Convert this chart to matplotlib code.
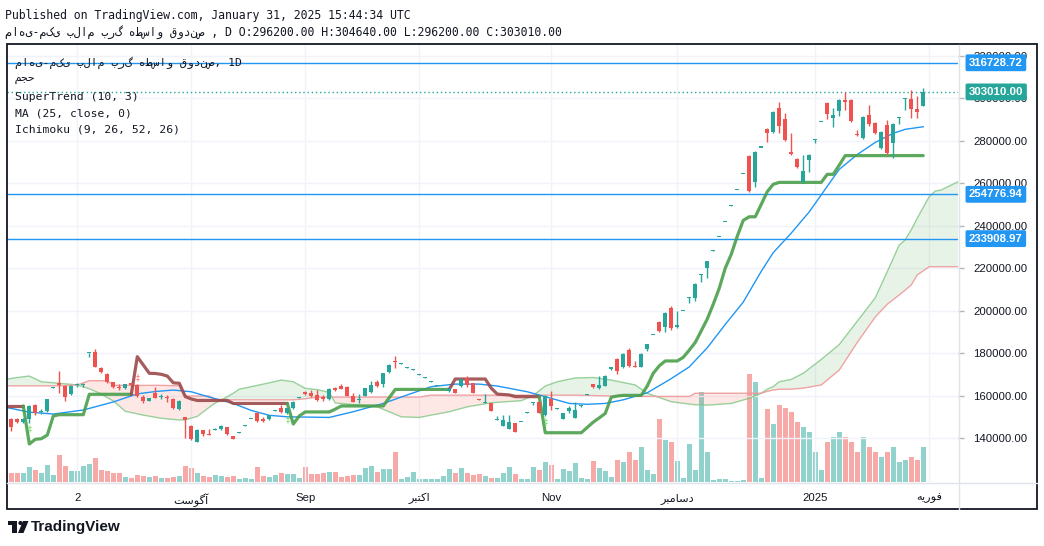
import numpy as np
import matplotlib.pyplot as plt
import matplotlib.transforms as mtransforms
from matplotlib.patches import Rectangle, Polygon, Circle

# ---- daily candles (prices in thousands) ----
opens = [150.8, 148.8, 148.9, 147.7, 149.0, 155.5, 152.2, 152.8, 163.7, 165.8,
         164.5, 160.7, 165.0, 165.2, 180.0, 180.5, 173.0, 170.1, 166.4, 164.2,
         163.5, 165.8, 165.0, 159.4, 157.6, 161.3, 159.2, 159.4, 158.5, 153.7,
         149.7, 145.6, 138.3, 143.8, 142.0, 144.0, 144.2, 145.0, 140.9, 142.7,
         146.0, 148.9, 151.9, 148.7, 148.8, 152.8, 154.1, 151.9, 154.0, 159.1,
         161.8, 161.3, 160.1, 159.0, 158.4, 163.2, 164.5, 164.0, 159.9, 158.2,
         159.9, 161.7, 166.4, 165.4, 171.0, 176.3, 175.0, 173.2, 172.0, 169.9,
         168.5, 166.7, 164.9, 163.0, 162.0, 163.0, 164.5, 168.1, 165.8, 158.4,
         156.6, 156.3, 148.7, 145.8, 144.4, 146.9, 147.9, 152.1, 156.6, 157.1,
         150.8, 158.4, 153.9, 149.1, 152.6, 149.6, 155.4, 160.6, 165.3, 163.5,
         164.6, 172.4, 177.2, 173.6, 181.4, 173.9, 173.6, 182.0, 188.9, 194.6,
         192.3, 201.2, 192.3, 200.2, 206.2, 205.9, 217.1, 220.1, 228.4, 234.7,
         242.1, 249.6, 257.2, 264.7, 272.8, 260.6, 277.0, 285.5, 284.1, 295.4,
         290.2, 274.7, 271.4, 260.6, 270.9, 280.6, 289.2, 297.8, 290.7, 294.0,
         299.2, 299.2, 282.9, 281.3, 292.2, 288.4, 276.6, 287.4, 278.9, 291.0,
         299.9, 299.7, 295.0, 296.2]
highs = [151.5, 149.5, 149.3, 149.3, 155.5, 156.0, 153.5, 158.5, 164.0, 171.6,
         165.0, 164.8, 166.0, 166.0, 180.2, 181.9, 173.3, 170.4, 166.6, 165.4,
         165.6, 166.1, 165.4, 160.3, 159.0, 163.9, 160.7, 160.3, 158.8, 157.7,
         150.0, 146.0, 144.1, 144.0, 144.1, 144.8, 146.1, 145.3, 141.1, 142.9,
         146.2, 149.1, 152.2, 149.7, 151.0, 153.0, 155.4, 154.3, 157.3, 159.3,
         162.0, 162.6, 162.6, 160.3, 163.5, 164.2, 165.4, 164.3, 161.1, 160.6,
         163.7, 167.0, 167.3, 170.8, 174.7, 178.6, 175.2, 173.4, 172.6, 170.1,
         168.7, 166.9, 165.1, 163.2, 164.0, 163.2, 168.0, 169.2, 166.0, 158.6,
         160.7, 156.6, 150.4, 150.8, 150.8, 147.2, 148.2, 152.3, 157.2, 157.4,
         160.2, 162.1, 154.3, 151.9, 155.0, 157.1, 155.6, 160.8, 165.5, 169.0,
         169.5, 173.5, 177.5, 179.9, 182.4, 176.3, 179.9, 184.5, 189.1, 194.9,
         199.2, 202.2, 199.8, 200.4, 206.6, 212.8, 217.4, 223.6, 228.6, 234.9,
         242.3, 249.8, 257.4, 264.9, 273.1, 275.0, 277.2, 285.8, 294.0, 298.3,
         293.1, 283.7, 271.7, 273.3, 273.6, 280.9, 289.4, 298.1, 295.4, 299.5,
         303.0, 299.5, 285.1, 291.5, 296.8, 288.7, 284.4, 289.8, 288.2, 291.3,
         300.2, 303.9, 301.1, 304.64]
lows = [147.5, 143.4, 147.2, 147.0, 147.2, 151.0, 151.5, 152.5, 163.6, 161.1,
        157.4, 160.1, 164.0, 164.2, 178.3, 173.3, 170.8, 166.0, 163.7, 162.6,
        163.3, 164.8, 159.5, 156.6, 157.3, 158.8, 158.2, 157.1, 153.5, 153.4,
        139.9, 139.2, 138.0, 141.1, 141.5, 143.8, 144.0, 141.6, 139.5, 142.6,
        145.9, 148.8, 147.5, 147.4, 148.5, 152.7, 152.0, 151.5, 153.8, 159.0,
        160.5, 159.5, 157.6, 157.6, 158.0, 162.0, 163.0, 159.6, 156.9, 156.3,
        159.6, 161.4, 164.2, 164.2, 170.7, 173.1, 174.9, 173.1, 171.9, 169.8,
        168.4, 166.6, 164.8, 162.9, 161.8, 161.2, 164.2, 163.9, 161.2, 157.9,
        156.4, 152.6, 148.6, 145.5, 144.1, 142.8, 147.8, 152.0, 155.5, 151.6,
        150.5, 153.2, 153.8, 148.9, 152.0, 149.4, 154.8, 160.5, 163.4, 163.3,
        164.3, 172.2, 170.0, 172.9, 173.6, 173.4, 173.3, 180.9, 188.8, 190.1,
        190.1, 190.9, 192.0, 200.1, 203.7, 204.7, 213.6, 215.4, 228.3, 234.6,
        242.0, 249.5, 257.1, 264.6, 256.0, 258.2, 276.9, 279.4, 283.6, 283.7,
        280.1, 273.5, 267.3, 260.3, 265.3, 278.8, 289.1, 290.2, 286.5, 291.7,
        294.5, 289.0, 282.4, 281.0, 287.0, 283.4, 276.3, 273.9, 271.9, 287.9,
        294.5, 290.7, 290.7, 296.2]
closes = [148.5, 145.0, 147.7, 148.9, 155.1, 151.6, 152.8, 158.2, 163.9, 165.0,
          159.5, 164.5, 165.4, 165.4, 180.2, 173.6, 171.1, 166.4, 164.2, 163.4,
          165.4, 165.0, 159.8, 157.6, 158.7, 159.0, 159.6, 159.0, 154.1, 157.4,
          148.5, 139.5, 143.8, 141.9, 141.7, 144.3, 145.8, 141.9, 139.7, 142.9,
          146.2, 149.1, 148.1, 148.3, 150.7, 153.0, 152.2, 154.1, 157.0, 159.3,
          160.7, 159.9, 157.9, 158.7, 162.9, 163.0, 163.2, 159.9, 157.1, 158.5,
          163.4, 165.0, 164.5, 170.5, 174.4, 175.7, 175.1, 173.3, 172.2, 170.0,
          168.6, 166.8, 165.0, 163.1, 163.3, 161.4, 167.6, 165.0, 161.4, 158.1,
          156.9, 152.9, 148.9, 148.5, 147.4, 143.0, 148.1, 152.2, 156.9, 151.9,
          159.8, 155.2, 154.2, 151.6, 154.3, 153.2, 155.5, 160.7, 164.2, 165.0,
          169.2, 173.3, 171.7, 179.6, 173.9, 173.6, 179.6, 184.3, 189.0, 190.4,
          198.9, 191.8, 193.2, 200.3, 206.5, 212.5, 217.3, 223.4, 228.5, 234.8,
          242.2, 249.7, 257.3, 264.8, 256.3, 274.7, 277.1, 283.7, 293.5, 287.0,
          280.4, 273.8, 267.6, 265.8, 273.3, 280.8, 289.3, 292.6, 292.2, 299.2,
          298.3, 289.3, 282.7, 291.2, 287.9, 283.7, 284.1, 274.2, 287.9, 291.2,
          300.1, 295.0, 293.5, 303.01]
volumes = [8, 8.7, 8.7, 8.7, 15, 12, 8.7, 16.7, 7, 27,
           16, 11, 11, 16, 17.7, 23.7, 12, 11, 9.3, 9.3,
           5, 4.3, 7, 6, 5, 6, 3.7, 3.7, 5, 6,
           16, 13.7, 9.3, 6, 5, 7, 6, 5.3, 6, 3.3,
           3.7, 3.3, 15, 6, 5, 7, 9, 8, 8, 4,
           15, 8, 8, 9, 10, 10, 5, 6, 7, 7,
           14, 16, 10, 13, 13, 30, 3, 5, 10, 3,
           3, 3, 3, 6, 13, 9, 14, 9, 7, 8,
           6, 4.5, 4, 9, 15, 8, 3, 3, 15, 12,
           20, 17, 3, 13, 11, 19, 4, 3, 21.5, 14.5,
           11.5, 5.5, 22.5, 20.5, 30.5, 22.5, 35.5, 12, 8.5, 63.5,
           42.5, 40.5, 21.5, 4.5, 38.5, 12, 90, 30, 2, 3,
           3, 1, 1, 2, 108, 100, 4, 73, 58, 77,
           74, 70, 60, 55, 50, 30, 12, 40, 45, 50,
           45, 40, 30, 45, 35, 30, 25, 30, 35, 20,
           22, 25, 22, 35]

# ---- SuperTrend (10, 3), one value per bar; trend flips at these bars ----
supertrend = [155.1, 155.1, 155.1, 155.1, 137.2, 139.4, 139.7, 141.4, 150.4, 151.0,
              151.0, 151.0, 151.0, 151.0, 160.6, 160.6, 160.6, 160.6, 160.6, 160.6,
              160.6, 160.6, 178.3, 174.4, 170.5, 170.4, 170.0, 169.2, 166.0, 165.8,
              159.5, 158.4, 157.7, 157.7, 157.7, 157.7, 157.7, 157.7, 156.3, 156.3,
              156.3, 156.3, 156.3, 156.3, 156.3, 156.3, 156.3, 156.3, 146.6, 150.4,
              152.3, 152.3, 152.3, 152.3, 152.3, 153.6, 155.1, 155.1, 155.1, 155.1,
              155.1, 155.1, 155.1, 155.1, 159.0, 162.9, 162.9, 162.9, 162.9, 162.9,
              162.9, 162.9, 162.9, 162.9, 162.9, 167.8, 167.8, 167.8, 167.8, 167.8,
              167.8, 163.5, 160.7, 160.5, 160.3, 159.5, 159.5, 159.5, 159.5, 159.5,
              142.5, 142.5, 142.5, 142.5, 142.5, 142.5, 142.5, 145.0, 147.5, 149.5,
              151.6, 159.2, 159.8, 160.1, 160.1, 160.1, 160.1, 164.5, 170.5, 174.0,
              176.3, 176.3, 176.3, 178.0, 181.4, 185.0, 190.5, 196.0, 203.0, 210.5,
              220.0, 226.5, 235.0, 242.5, 244.2, 244.2, 250.0, 256.0, 259.5, 260.4,
              260.4, 260.4, 260.4, 260.4, 260.4, 260.4, 260.4, 264.2, 264.2, 268.5,
              273.0, 273.0, 273.0, 273.0, 273.0, 273.0, 273.0, 273.0, 273.0, 273.0,
              273.0, 273.0, 273.0, 273.0]
st_flips = [5, 23, 49, 76, 91]  # first bars of each new trend, chart opens in a downtrend
buy_signals = [5, 48, 91]
sell_signals = [23]

# ---- MA (25, close) read at a few bars ----
ma_bars = [1, 5, 9, 14, 19, 23, 26, 29, 32, 35, 39, 42, 45, 48, 55, 59, 64, 68, 72,
           76, 80, 83, 88, 92, 95, 98, 101, 104, 108, 112, 115, 118, 121, 124, 127,
           129, 132, 135, 137, 140, 143, 146, 149, 151, 154]
ma_vals = [154.5, 152.2, 151.3, 153.2, 157.0, 160.8, 161.9, 162.6, 161.8, 159.3,
           156.3, 153.0, 150.7, 150.0, 149.7, 152.4, 156.3, 160.3, 164.2, 165.4,
           165.4, 164.5, 161.8, 158.7, 156.3, 155.9, 156.3, 158.0, 161.3, 168.0,
           173.5, 182.5, 193.5, 204.0, 218.5, 227.3, 236.5, 246.5, 254.5, 266.5,
           273.5, 279.2, 283.5, 285.4, 286.6]

# ---- Ichimoku cloud (leading spans A and B) ----
cloud_bars = [1, 3, 5, 7, 10, 13, 15, 17, 18, 19, 21, 24, 27, 30, 31, 33, 35, 36, 37,
              39, 40, 42, 45, 47, 49, 51, 53, 55, 56, 58, 63, 67, 70, 72, 75, 78, 82,
              87, 89, 91, 93, 96, 99, 102, 106, 108, 112, 115, 116, 118, 122, 125,
              127, 128, 129, 130, 132, 134, 137, 140, 143, 146, 148, 150, 151, 152,
              153, 155, 156, 157, 160]
span_a = [167.6, 168.5, 169.2, 166.5, 165.8, 165.0, 163.2, 160.8, 159.0, 157.5,
          152.6, 150.8, 149.3, 148.5, 148.6, 150.2, 154.5, 156.5, 157.9, 161.1,
          163.0, 164.2, 166.0, 167.3, 166.5, 163.4, 162.8, 161.5, 156.5, 156.0,
          154.7, 150.0, 149.7, 150.8, 152.4, 154.7, 156.6, 157.6, 160.0, 164.5,
          166.5, 168.3, 168.5, 167.3, 165.0, 161.1, 157.1, 156.0, 155.7, 155.5,
          156.3, 158.7, 161.1, 163.0, 164.2, 166.5, 167.6, 170.5, 177.0, 184.0,
          195.0, 206.0, 218.3, 230.9, 233.3, 238.0, 243.5, 253.7, 256.3, 256.8,
          261.0]
span_b = [164.6, 164.6, 164.6, 164.6, 164.6, 165.0, 167.0, 167.0, 167.0, 164.8,
          164.8, 164.8, 164.8, 164.6, 159.8, 159.8, 159.8, 158.0, 158.0, 158.0,
          158.0, 158.0, 158.0, 158.0, 158.0, 158.5, 159.3, 159.3, 159.3, 159.3,
          159.3, 159.3, 159.3, 160.2, 160.2, 160.2, 160.2, 160.2, 160.2, 160.2,
          160.2, 160.2, 160.0, 159.8, 159.6, 159.6, 159.6, 159.6, 161.1, 161.1,
          161.1, 161.1, 161.1, 162.0, 162.6, 163.0, 163.0, 163.5, 165.0, 172.0,
          185.0, 197.0, 203.0, 207.4, 209.7, 212.1, 216.8, 220.7, 220.7, 220.7,
          220.7]

hlines = [316728.72, 254776.94, 233908.97]
last_close = 303010.00
price_ticks = list(range(140000, 340000, 20000))

# month labels; the Persian ones are written in presentation forms, visual order
time_bars = [13, 32, 51, 70, 92, 113, 136, 155]
time_labels = ['2', '\uFE96\uFEB3\uFEEE\uFB94\uFE81', 'Sep',
               '\uFEAE\uFE92\uFE98\uFB90\uFE8D', 'Nov',
               '\uFEAE\uFE92\uFEE3\uFE8E\uFEB3\uFEA9', '2025',
               '\uFEEA\uFBFE\uFEAD\uFEEE\uFED3']

symbol = 'ماهی-مکی بلام برگ هطساو قودنص'
volume_title = '\uFEE2\uFEA0\uFEA3'

UP, DOWN = '#26a69a', '#ef5350'
W, H = 1044, 546
MONO = ['DejaVu Sans Mono', 'DejaVu Sans']
SANS = ['Liberation Sans', 'DejaVu Sans']


def fx(px):
    return px / W


def fy(py):
    return 1 - py / H


fig = plt.figure(figsize=(W / 100, H / 100), dpi=100)
ax = fig.add_axes([fx(7), fy(482), fx(958) - fx(7), fy(45) - fy(482)])
axv = ax.twinx()
ax.set_zorder(axv.get_zorder() + 1)
ax.patch.set_visible(False)

bars = np.arange(1, len(opens) + 1)
o = np.array(opens) * 1000
h = np.array(highs) * 1000
l = np.array(lows) * 1000
c = np.array(closes) * 1000
up = c >= o
colors = np.where(up, UP, DOWN)

# volume
vol_colors = np.where(up, '#92d2cc', '#f7a9a7')
axv.bar(bars, volumes, width=0.8, color=vol_colors, linewidth=0)
axv.set_ylim(0, 437)
axv.axis('off')

# ichimoku cloud
cb = np.array(cloud_bars)
sa = np.array(span_a) * 1000
sb = np.array(span_b) * 1000
ax.fill_between(cb, sa, sb, where=sa >= sb, interpolate=True, color='#43a047', alpha=0.12, lw=0, zorder=1)
ax.fill_between(cb, sa, sb, where=sa < sb, interpolate=True, color='#f44336', alpha=0.12, lw=0, zorder=1)
ax.plot(cb, sa, color='#81c784', lw=1.0, alpha=0.8, zorder=1.5)
ax.plot(cb, sb, color='#ef9a9a', lw=1.0, alpha=0.9, zorder=1.5)

# moving average
ax.plot(ma_bars, np.array(ma_vals) * 1000, color='#2196f3', lw=1.0, zorder=2)

# supertrend, one polyline per trend run
st = np.array(supertrend) * 1000
starts = [1] + st_flips
ends = st_flips + [len(st) + 1]
for k, (s, e) in enumerate(zip(starts, ends)):
    col = '#4a9f4a' if k % 2 == 1 else '#9c4a4a'
    i0 = max(s - 1, 1)
    ax.plot(bars[i0 - 1:e - 1], st[i0 - 1:e - 1], color=col, lw=2.3, alpha=0.9,
            solid_joinstyle='round', solid_capstyle='round', zorder=3)
for b in buy_signals:
    ax.text(b, l[b - 1] - 700, '\u2021', fontsize=5.5, color='#66dd66', ha='center', va='top', zorder=6)
for b in sell_signals:
    ax.text(b, h[b - 1] + 700, '\u2021', fontsize=5.5, color='#ff6f6f', ha='center', va='bottom', zorder=6)

# candles
ax.vlines(bars, l, h, colors=colors, lw=1, zorder=4)
body = np.abs(c - o)
small = body < 500
body_h = np.where(small, 500, body)
body_bot = np.where(small, (o + c) / 2 - 250, np.minimum(o, c))
ax.bar(bars, body_h, bottom=body_bot, width=0.68, color=colors, linewidth=0, zorder=5)

# horizontal lines and last price
for v in hlines:
    ax.axhline(v, color='#2196f3', lw=1, zorder=2.5)
ax.axhline(last_close, color=UP, lw=1, ls=(0, (1, 2)), zorder=2.5)

ax.set_xlim(1.28, 159.8)
ax.set_ylim(119300, 325100)

# axes look
for sp in ax.spines.values():
    sp.set_visible(False)
ax.grid(True, color='#f0f3fa', lw=1)
ax.set_axisbelow(True)
ax.yaxis.tick_right()
ax.set_yticks(price_ticks)
ax.set_yticklabels([f'{v:.2f}' for v in price_ticks])
ax.tick_params(axis='y', length=4, width=1, color='#b2b5be', pad=7,
               labelsize=8.2, labelcolor='#131722')
ax.set_xticks(time_bars)
ax.set_xticklabels(time_labels)
ax.tick_params(axis='x', length=0, pad=8, labelsize=8.2, labelcolor='#131722')
for t in ax.get_yticklabels() + ax.get_xticklabels():
    t.set_fontfamily(SANS)

# price labels on the axis
tr = mtransforms.blended_transform_factory(ax.transAxes, ax.transData)
for v in hlines:
    ax.text(1.0115, v, f'{v:.2f}', transform=tr, ha='left', va='center', fontsize=8.2,
            color='white', fontweight='bold', family=SANS, zorder=10,
            bbox=dict(boxstyle='round,pad=0.3,rounding_size=0.15', fc='#2196f3', ec='none'))
ax.text(1.0115, last_close, f'{last_close:.2f}', transform=tr, ha='left', va='center',
        fontsize=8.2, color='white', fontweight='bold', family=SANS, zorder=10,
        bbox=dict(boxstyle='round,pad=0.3,rounding_size=0.15', fc=UP, ec='none'))

# frame, separators and logo drawn in pixel space
ov = fig.add_axes([0, 0, 1, 1], zorder=20)
ov.set_xlim(0, W)
ov.set_ylim(H, 0)
ov.axis('off')
ov.patch.set_visible(False)
ov.plot([958.5, 958.5], [45, 509], color='#e0e3eb', lw=1)
ov.plot([7, 1037], [482.5, 482.5], color='#e0e3eb', lw=1)
ov.add_patch(Rectangle((7, 44), 1030, 465, fill=False, ec='#131722', lw=1.3))
ov.add_patch(Rectangle((8, 521), 9, 4, color='#131722', lw=0))
ov.add_patch(Rectangle((12, 521), 5, 12, color='#131722', lw=0))
ov.add_patch(Circle((20.5, 523), 2.1, color='#131722', lw=0))
ov.add_patch(Polygon([(23, 521), (28.5, 521), (23.5, 533), (18, 533)], color='#131722', lw=0))
ov.text(31, 527.5, 'TradingView', fontsize=11, fontweight='bold', color='#131722',
        va='center', ha='left', family=SANS)

# header and legend
fig.text(fx(5), fy(15), 'Published on TradingView.com, January 31, 2025 15:44:34 UTC',
         fontsize=8.3, family=MONO, color='#131722', va='center')
fig.text(fx(5), fy(32), symbol + ' , D O:296200.00 H:304640.00 L:296200.00 C:303010.00',
         fontsize=8.3, family=MONO, color='#131722', va='center')
legend = [(63, symbol + ', 1D'), (80, volume_title), (97, 'SuperTrend (10, 3)'),
          (114, 'MA (25, close, 0)'), (130, 'Ichimoku (9, 26, 52, 26)')]
for py, txt in legend:
    fig.text(fx(15), fy(py), txt, fontsize=8.2, family=MONO, color='#131722',
             va='center', zorder=30)

fig.savefig('out.png', dpi=100)
